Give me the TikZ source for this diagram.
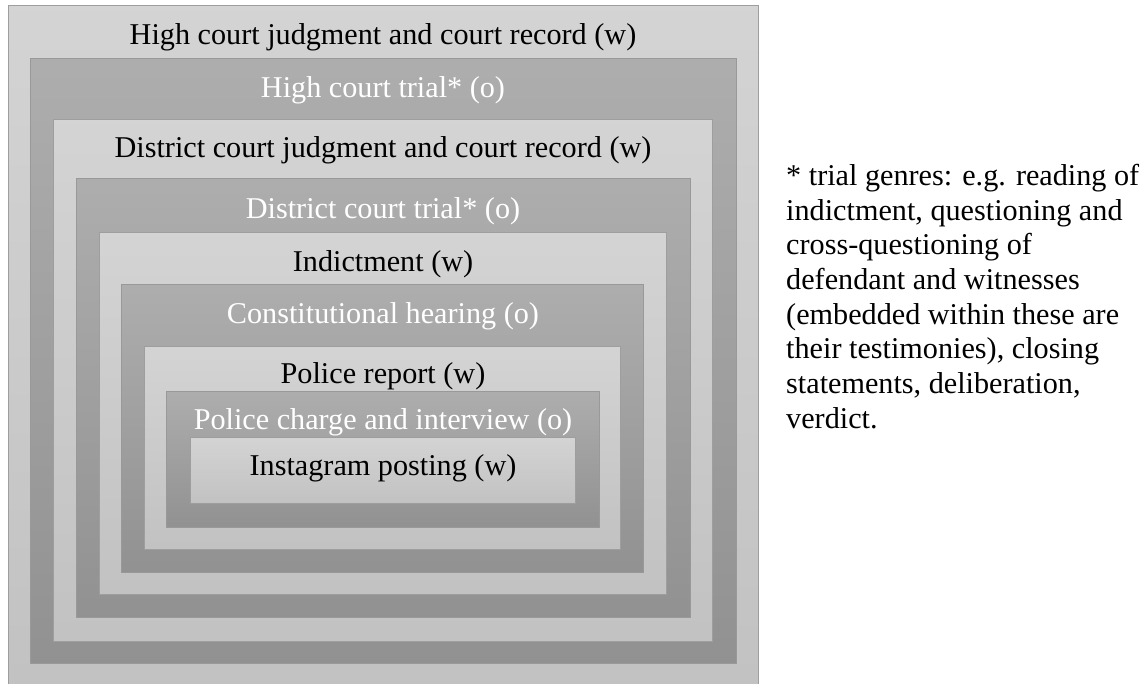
\documentclass[tikz,border=0pt]{standalone}
\usepackage{fontspec}
\setmainfont{Liberation Serif}

\begin{document}
\begin{tikzpicture}
    [x=1pt, y=-1pt,
     every node/.style={font=\fontsize{30.2}{34.7}\selectfont, inner sep=0pt},
     lightbox/.style={draw=black!38, line width=0.8pt, top color=black!17, bottom color=black!24},
     darkbox/.style={draw=black!40, line width=0.8pt, top color=black!32, bottom color=black!43},
     wlabel/.style={text=black, anchor=base},
     olabel/.style={text=white, anchor=base}]
    \useasboundingbox (0,0) rectangle (1143,683);
    % nested boxes, outermost first
    \path[lightbox] (8,5) rectangle (758,690);
    \path[darkbox] (30,58) rectangle (736,663);
    \path[lightbox] (53,119) rectangle (712,641);
    \path[darkbox] (76,178) rectangle (690,617);
    \path[lightbox] (99,232) rectangle (666,594);
    \path[darkbox] (121,284) rectangle (643,572);
    \path[lightbox] (144,346) rectangle (620,549);
    \path[darkbox] (166,391) rectangle (599,527);
    \path[lightbox] (190,437) rectangle (575,503);
    % labels
    \node[wlabel] (hcjudg) at (383,44) {High court judgment and court record (w)};
    \node[olabel] (hctrial) at (383,97) {High court trial* (o)};
    \node[wlabel] (dcjudg) at (383,157) {District court judgment and court record (w)};
    \node[olabel] (dctrial) at (383,218) {District court trial* (o)};
    \node[wlabel] (indict) at (383,271) {Indictment (w)};
    \node[olabel] (consthear) at (383,323) {Constitutional hearing (o)};
    \node[wlabel] (polrep) at (383,383) {Police report (w)};
    \node[olabel] (polcharge) at (383,429) {Police charge and interview (o)};
    \node[wlabel] (insta) at (383,475) {Instagram posting (w)};
    % footnote on trial genres
    \node[anchor=north west, align=left] (note) at (786,164)
        {* trial genres: e.g. reading of\\
         indictment, questioning and\\
         cross-questioning of\\
         defendant and witnesses\\
         (embedded within these are\\
         their testimonies), closing\\
         statements, deliberation,\\
         verdict.};
\end{tikzpicture}
\end{document}
